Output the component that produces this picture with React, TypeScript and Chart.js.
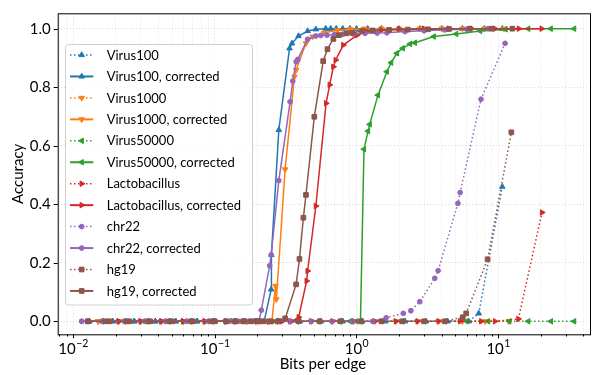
import React, { useEffect, useRef } from 'react';
import { Chart, registerables } from 'chart.js';
Chart.register(...registerables);

const FONT = 'Lato, "DejaVu Sans", sans-serif';

// ---------------- data ----------------
const virus100X = [0.013, 0.019, 0.027, 0.038, 0.053, 0.075, 0.1, 0.14, 0.2, 0.28, 0.4, 0.56, 0.8, 1.1, 1.6, 2.2, 3.1, 4.4, 6.2, 7.3, 10.7];
const virus100Y = [0, 0, 0, 0, 0, 0, 0, 0, 0, 0, 0, 0, 0, 0, 0, 0, 0, 0, 0, 0.027, 0.46];

const virus100cX = [0.013, 0.019, 0.027, 0.038, 0.053, 0.075, 0.1, 0.13, 0.16, 0.19, 0.21, 0.223, 0.25, 0.251, 0.283, 0.337, 0.351, 0.39, 0.452, 0.517, 0.607, 0.658, 0.72, 0.8, 0.9, 1.0, 1.2, 1.5, 2, 2.8, 4, 5.6, 8, 10.7];
const virus100cY = [0, 0, 0, 0, 0, 0, 0, 0, 0, 0, 0, 0, 0.109, 0.227, 0.654, 0.933, 0.95, 0.975, 0.992, 0.998, 1, 1, 1, 1, 1, 1, 1, 1, 1, 1, 1, 1, 1, 1];

const virus1000X = [0.015, 0.021, 0.03, 0.042, 0.06, 0.085, 0.12, 0.17, 0.24, 0.34, 0.48, 0.68, 0.96, 1.35, 1.9, 2.7, 3.8, 5.6, 8.1, 11.9];
const virus1000Y = [0, 0, 0, 0, 0, 0, 0, 0, 0, 0, 0, 0, 0, 0, 0, 0, 0, 0, 0, 0];

const virus1000cX = [0.015, 0.021, 0.03, 0.042, 0.06, 0.085, 0.12, 0.17, 0.21, 0.235, 0.253, 0.268, 0.272, 0.3135, 0.365, 0.375, 0.44, 0.49, 0.592, 0.733, 0.9, 1.13, 1.5, 2, 2.8, 4, 5.6, 8, 11];
const virus1000cY = [0, 0, 0, 0, 0, 0, 0, 0, 0, 0, 0, 0.121, 0.075, 0.519, 0.836, 0.859, 0.95, 0.973, 0.986, 0.995, 0.998, 1, 1, 1, 1, 1, 1, 1, 1];

const virus50000X = [0.016, 0.023, 0.033, 0.047, 0.067, 0.095, 0.135, 0.19, 0.27, 0.38, 0.54, 0.76, 1.07, 1.5, 2.1, 3, 4.2, 6, 8.5, 12, 16.3, 23.6, 34.4];
const virus50000Y = [0, 0, 0, 0, 0, 0, 0, 0, 0, 0, 0, 0, 0, 0, 0, 0, 0, 0, 0, 0, 0, 0, 0];

const virus50000cX = [0.016, 0.023, 0.033, 0.047, 0.067, 0.095, 0.135, 0.19, 0.27, 0.38, 0.54, 0.76, 0.9, 1.0, 1.067, 1.13, 1.207, 1.24, 1.418, 1.639, 1.757, 1.926, 2.122, 2.387, 2.585, 3.51, 5.06, 7.47, 11.3, 16.3, 23.5, 34.4];
const virus50000cY = [0, 0, 0, 0, 0, 0, 0, 0, 0, 0, 0, 0, 0, 0, 0, 0.588, 0.65, 0.673, 0.773, 0.853, 0.884, 0.916, 0.933, 0.948, 0.952, 0.973, 0.982, 0.992, 0.998, 1, 1, 1];

const lactoX = [0.021, 0.03, 0.042, 0.06, 0.085, 0.12, 0.17, 0.24, 0.34, 0.48, 0.68, 0.96, 1.35, 1.9, 2.7, 3.8, 5.4, 7.6, 9.5, 13.9, 20.4];
const lactoY = [0, 0, 0, 0, 0, 0, 0, 0, 0, 0, 0, 0, 0, 0, 0, 0, 0, 0, 0, 0.008, 0.372];

const lactoCX = [0.021, 0.03, 0.042, 0.06, 0.085, 0.12, 0.16, 0.2, 0.25, 0.3, 0.35, 0.391, 0.445, 0.452, 0.517, 0.61, 0.647, 0.687, 0.713, 0.807, 1.01, 1.19, 1.5, 2, 3, 4.5, 6.5, 9.5, 14, 20.3];
const lactoCY = [0, 0, 0, 0, 0, 0, 0, 0, 0, 0, 0, 0.014, 0.138, 0.172, 0.394, 0.745, 0.808, 0.87, 0.893, 0.944, 0.978, 0.99, 0.995, 0.998, 1, 1, 1, 1, 1, 1];

const chr22X = [0.0115, 0.016, 0.023, 0.032, 0.045, 0.063, 0.09, 0.125, 0.175, 0.245, 0.34, 0.48, 0.67, 0.94, 1.3, 1.62, 2.14, 2.42, 2.8, 3.57, 3.77, 5.2, 5.39, 7.57, 11.2];
const chr22Y = [0, 0, 0, 0, 0, 0, 0, 0, 0, 0, 0, 0, 0, 0, 0, 0.012, 0.027, 0.036, 0.067, 0.147, 0.173, 0.403, 0.44, 0.759, 0.95];

const chr22cX = [0.0115, 0.016, 0.023, 0.032, 0.045, 0.063, 0.09, 0.12, 0.135, 0.15, 0.165, 0.18, 0.195, 0.205, 0.213, 0.244, 0.25, 0.283, 0.34, 0.355, 0.375, 0.385, 0.452, 0.517, 0.56, 0.62, 0.7, 0.8, 0.95, 1.15, 1.4, 1.64, 2.2, 3, 4.2, 6, 8.5];
const chr22cY = [0, 0, 0, 0, 0, 0, 0, 0, 0, 0, 0, 0, 0, 0, 0.038, 0.19, 0.227, 0.481, 0.75, 0.821, 0.887, 0.895, 0.964, 0.975, 0.977, 0.978, 0.98, 0.981, 0.982, 0.984, 0.985, 0.986, 0.99, 0.993, 0.996, 0.998, 1.0];

const hg19X = [0.0127, 0.018, 0.025, 0.035, 0.05, 0.07, 0.1, 0.14, 0.2, 0.28, 0.39, 0.55, 0.77, 1.08, 1.5, 2.1, 3, 4.2, 5.63, 5.95, 8.43, 12.4];
const hg19Y = [0, 0, 0, 0, 0, 0, 0, 0, 0, 0, 0, 0, 0, 0, 0, 0, 0, 0, 0.014, 0.027, 0.212, 0.646];

const hg19cX = [0.0127, 0.017, 0.024, 0.034, 0.048, 0.068, 0.095, 0.12, 0.14, 0.16, 0.18, 0.2, 0.22, 0.25, 0.28, 0.314, 0.375, 0.396, 0.422, 0.44, 0.504, 0.582, 0.624, 0.687, 0.753, 0.851, 0.933, 1.096, 1.3, 1.7, 2.3, 3.2, 4.5, 6.3, 9, 12.6];
const hg19cY = [0, 0, 0, 0, 0, 0, 0, 0, 0, 0, 0, 0, 0, 0, 0, 0.01, 0.126, 0.213, 0.354, 0.432, 0.699, 0.889, 0.93, 0.965, 0.978, 0.984, 0.986, 0.992, 0.994, 0.996, 0.997, 0.998, 0.999, 1, 1, 1];

const seriesLabels = [
  'Virus100', 'Virus100, corrected',
  'Virus1000', 'Virus1000, corrected',
  'Virus50000', 'Virus50000, corrected',
  'Lactobacillus', 'Lactobacillus, corrected',
  'chr22', 'chr22, corrected',
  'hg19', 'hg19, corrected',
];
const seriesX = [virus100X, virus100cX, virus1000X, virus1000cX, virus50000X, virus50000cX, lactoX, lactoCX, chr22X, chr22cX, hg19X, hg19cX];
const seriesY = [virus100Y, virus100cY, virus1000Y, virus1000cY, virus50000Y, virus50000cY, lactoY, lactoCY, chr22Y, chr22cY, hg19Y, hg19cY];

const yTicks = [0, 0.2, 0.4, 0.6, 0.8, 1.0];
const xMajorTicks = [0.01, 0.1, 1, 10];
const xMajorExp = ['\u22122', '\u22121', '0', '1'];
const xTitle = 'Bits per edge';
const yTitle = 'Accuracy';

// ---------------- styles ----------------
const COLORS = ['#1f77b4', '#ff7f0e', '#2ca02c', '#d62728', '#9467bd', '#8c564b'];
const MARKERS = ['triangle', 'triangle', 'triangle', 'triangle', 'circle', 'rect'];
const ROTS = [0, 180, 270, 90, 0, 0];
const RADII = [3.2, 3.2, 3.2, 3.2, 2.4, 3.3];
const DOT = [1.5, 2.5];

const X_MIN = 0.007781;
const X_MAX = 43.09;
const Y_MIN = -0.0444;
const Y_MAX = 1.0526;

function drawMarker(ctx: CanvasRenderingContext2D, style: string, rotDeg: number, r: number, x: number, y: number, color: string) {
  ctx.save();
  ctx.fillStyle = color;
  ctx.strokeStyle = color;
  ctx.lineWidth = 1;
  ctx.setLineDash([]);
  ctx.beginPath();
  if (style === 'circle') {
    ctx.arc(x, y, r, 0, Math.PI * 2);
  } else if (style === 'rect') {
    const s = r * Math.SQRT1_2;
    ctx.rect(x - s, y - s, 2 * s, 2 * s);
  } else {
    let a = (rotDeg * Math.PI) / 180;
    for (let k = 0; k < 3; k++) {
      const px = x + Math.sin(a) * r;
      const py = y - Math.cos(a) * r;
      if (k === 0) ctx.moveTo(px, py); else ctx.lineTo(px, py);
      a += (2 * Math.PI) / 3;
    }
    ctx.closePath();
  }
  ctx.fill();
  ctx.stroke();
  ctx.restore();
}

function isPow10(v: number) {
  const l = Math.log10(v);
  return Math.abs(l - Math.round(l)) < 1e-6;
}

const decorPlugin = {
  id: 'decor',
  afterDraw(chart: any) {
    const ctx: CanvasRenderingContext2D = chart.ctx;
    const area = chart.chartArea;
    const xs = chart.scales.x;
    const ys = chart.scales.y;
    ctx.save();
    // frame
    ctx.strokeStyle = '#000';
    ctx.lineWidth = 1;
    ctx.setLineDash([]);
    ctx.strokeRect(area.left + 0.5, area.top + 0.5, area.right - area.left + 2, area.bottom - area.top);
    // x ticks
    for (const t of xs.ticks) {
      const px = Math.round(xs.getPixelForValue(t.value)) + 0.5;
      const len = isPow10(t.value) ? 4 : 2.2;
      ctx.beginPath();
      ctx.moveTo(px, area.bottom);
      ctx.lineTo(px, area.bottom + len);
      ctx.stroke();
    }
    // y ticks
    for (const t of ys.ticks) {
      const py = Math.round(ys.getPixelForValue(t.value)) + 0.5;
      ctx.beginPath();
      ctx.moveTo(area.left, py);
      ctx.lineTo(area.left - 4, py);
      ctx.stroke();
    }
    // x tick labels 10^k
    ctx.fillStyle = '#000';
    ctx.textBaseline = 'alphabetic';
    ctx.textAlign = 'left';
    xMajorTicks.forEach((v, i) => {
      const px = xs.getPixelForValue(v);
      ctx.font = `15px ${FONT}`;
      const wb = ctx.measureText('10').width;
      ctx.font = `10.5px ${FONT}`;
      const ws = ctx.measureText(xMajorExp[i]).width;
      const start = px - (wb + ws) / 2;
      ctx.font = `15px ${FONT}`;
      ctx.fillText('10', start, 353.5);
      ctx.font = `10.5px ${FONT}`;
      ctx.fillText(xMajorExp[i], start + wb + 0.5, 347);
    });
    // legend
    const lx = 65.5, ly = 44.5, lw = 187, lh = 260.5;
    ctx.beginPath();
    (ctx as any).roundRect(lx, ly, lw, lh, 3);
    ctx.fillStyle = 'rgba(255,255,255,0.8)';
    ctx.fill();
    ctx.strokeStyle = '#d0d0d0';
    ctx.lineWidth = 1;
    ctx.stroke();
    ctx.font = `13px ${FONT}`;
    ctx.textBaseline = 'middle';
    seriesLabels.forEach((lab, i) => {
      const g = Math.floor(i / 2);
      const dotted = i % 2 === 0;
      const y = 55 + 21.45 * i;
      const color = COLORS[g];
      ctx.save();
      ctx.strokeStyle = color;
      ctx.lineWidth = dotted ? 1.5 : 2;
      ctx.setLineDash(dotted ? DOT : []);
      ctx.beginPath();
      ctx.moveTo(70, y);
      ctx.lineTo(93.3, y);
      ctx.stroke();
      ctx.restore();
      drawMarker(ctx, MARKERS[g], ROTS[g], RADII[g], 81.7, y, color);
      ctx.fillStyle = '#000';
      ctx.fillText(lab, 106.7, y + 0.5);
    });
    ctx.restore();
  },
};

export default function App() {
  const ref = useRef<HTMLCanvasElement>(null);
  useEffect(() => {
    const canvas = ref.current;
    if (!canvas) return;
    const datasets = seriesLabels.map((label, i) => {
      const g = Math.floor(i / 2);
      const dotted = i % 2 === 0;
      const color = COLORS[g];
      return {
        label,
        data: seriesX[i].map((x, j) => ({ x, y: seriesY[i][j] })),
        borderColor: color,
        backgroundColor: color,
        borderWidth: 1.5,
        borderDash: dotted ? DOT : [],
        pointStyle: MARKERS[g],
        pointRotation: ROTS[g],
        pointRadius: RADII[g],
        pointBorderWidth: 1,
        pointBorderColor: color,
        pointBackgroundColor: color,
        tension: 0,
        fill: false,
        order: seriesLabels.length - i,
      };
    });
    const xTickVals: number[] = [];
    for (let k = -3; k <= 2; k++) {
      for (let m = 1; m <= 9; m++) {
        const v = m * Math.pow(10, k);
        if (v >= X_MIN && v <= X_MAX) xTickVals.push(v);
      }
    }
    const chart = new Chart(canvas, {
      type: 'line',
      data: { datasets } as any,
      options: {
        animation: false,
        responsive: false,
        devicePixelRatio: 1,
        layout: { padding: { top: 13.3, right: 0, left: 0, bottom: 0 } },
        plugins: { legend: { display: false }, tooltip: { enabled: false } },
        scales: {
          x: {
            type: 'logarithmic',
            min: X_MIN,
            max: X_MAX,
            afterBuildTicks: (s: any) => {
              s.ticks = xTickVals.map((v) => ({ value: v, major: isPow10(v) }));
            },
            afterFit: (s: any) => {
              s.height = 40.7;
              s.paddingLeft = 0;
              s.paddingRight = 0;
            },
            ticks: { display: false, autoSkip: false },
            grid: {
              color: (c: any) => (c.tick && isPow10(c.tick.value) ? '#cfcfcf' : '#dedede'),
              lineWidth: 0.8,
              drawTicks: false,
            },
            border: { display: false, dash: [1, 2] },
            title: {
              display: true,
              text: xTitle,
              color: '#000',
              font: { family: FONT, size: 15 },
              padding: { top: 0, bottom: 2 },
            },
          },
          y: {
            type: 'linear',
            min: Y_MIN,
            max: Y_MAX,
            afterBuildTicks: (s: any) => {
              s.ticks = yTicks.map((v) => ({ value: v }));
            },
            afterFit: (s: any) => {
              s.width = 57.7;
              s.paddingTop = 0;
              s.paddingBottom = 0;
            },
            ticks: {
              color: '#000',
              font: { family: FONT, size: 15 },
              padding: 7,
              callback: (v: any) => Number(v).toFixed(1),
            },
            grid: { color: '#cfcfcf', lineWidth: 0.8, drawTicks: false },
            border: { display: false, dash: [1, 2] },
            title: {
              display: true,
              text: yTitle,
              color: '#000',
              font: { family: FONT, size: 15 },
              padding: { top: 9, bottom: 0 },
            },
          },
        },
      } as any,
      plugins: [decorPlugin],
    });
    return () => chart.destroy();
  }, []);
  return (
    <div style={{ position: 'fixed', left: 0, top: 0, width: 593, height: 375, background: '#fff' }}>
      <canvas ref={ref} width={593} height={375} style={{ display: 'block' }} />
    </div>
  );
}
